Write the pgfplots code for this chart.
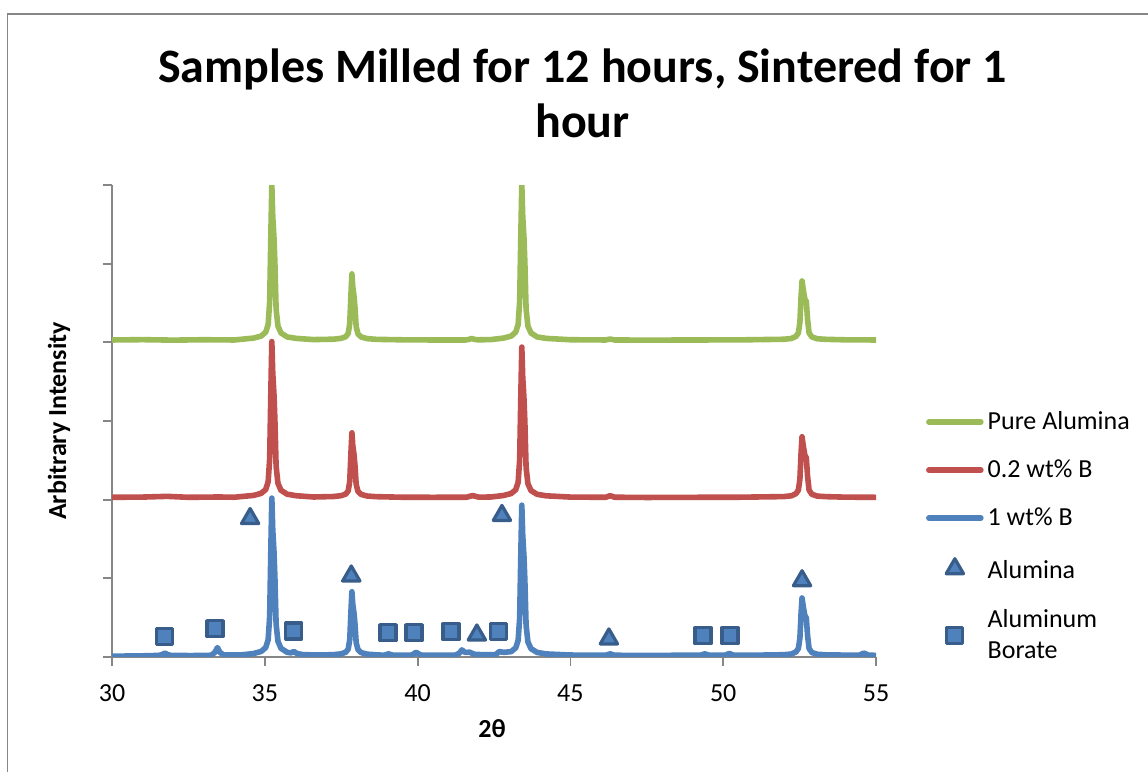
\documentclass[border=0pt]{standalone}
\usepackage{fontspec}
\setmainfont{Carlito}
\usepackage{pgfplots}
\pgfplotsset{compat=1.18}
\usepackage{pgfplotstable}

\definecolor{xlgreen}{HTML}{9BBB59}
\definecolor{xlred}{HTML}{C0504D}
\definecolor{xlblue}{HTML}{4F81BD}
\definecolor{xldark}{HTML}{385D8A}
\definecolor{xlgray}{HTML}{868686}

\pgfplotsset{
  linelegend/.style={legend image code/.code={\draw[##1] (0pt,0pt) -- (26pt,0pt);}},
  marklegend/.style={legend image code/.code={\draw[mark repeat=2,mark phase=2,##1] plot coordinates {(0pt,0pt) (13pt,0pt) (26pt,0pt)};}},
}

% pure alumina (offset +4)
\pgfplotstableread{
x y
30.00 4.030
31.00 4.034
32.00 4.028
33.00 4.033
34.00 4.030
34.63 4.054
34.88 4.079
35.03 4.129
35.11 4.227
35.16 4.523
35.20 5.409
35.23 6.000
35.26 5.606
35.30 5.330
35.33 5.015
35.37 4.424
35.43 4.207
35.53 4.119
35.73 4.069
36.03 4.050
36.60 4.035
37.25 4.040
37.50 4.051
37.65 4.072
37.73 4.114
37.78 4.240
37.82 4.618
37.85 4.870
37.88 4.702
37.92 4.584
37.95 4.450
37.99 4.198
38.05 4.106
38.15 4.068
38.35 4.047
38.65 4.038
39.50 4.032
40.50 4.030
41.57 4.030
41.69 4.038
41.77 4.050
41.85 4.038
41.97 4.032
42.40 4.035
42.81 4.054
43.06 4.079
43.21 4.129
43.29 4.227
43.34 4.523
43.38 5.409
43.41 6.000
43.44 5.606
43.48 5.330
43.51 5.015
43.55 4.424
43.61 4.207
43.71 4.119
43.91 4.069
44.21 4.050
45.00 4.033
46.15 4.030
46.30 4.042
46.45 4.030
47.50 4.028
49.00 4.030
50.50 4.031
51.98 4.039
52.23 4.049
52.38 4.075
52.46 4.120
52.51 4.255
52.55 4.593
52.58 4.780
52.62 4.668
52.67 4.555
52.72 4.518
52.76 4.293
52.81 4.120
52.90 4.068
53.08 4.045
53.38 4.038
54.00 4.032
55.00 4.030
}\pure

% 0.2 wt% B (offset +2)
\pgfplotstableread{
x y
30.00 2.030
31.00 2.033
31.80 2.042
32.50 2.030
33.50 2.034
34.00 2.031
34.63 2.054
34.88 2.080
35.03 2.129
35.11 2.228
35.16 2.525
35.20 3.416
35.23 4.010
35.26 3.614
35.30 3.337
35.33 3.020
35.37 2.426
35.43 2.208
35.53 2.119
35.73 2.070
36.03 2.050
36.60 2.034
37.25 2.040
37.50 2.051
37.65 2.071
37.73 2.112
37.78 2.235
37.82 2.604
37.85 2.850
37.88 2.686
37.92 2.571
37.95 2.440
37.99 2.194
38.05 2.104
38.15 2.067
38.35 2.046
38.65 2.038
39.50 2.031
40.50 2.030
41.60 2.031
41.80 2.052
42.00 2.032
42.40 2.034
42.81 2.053
43.06 2.078
43.21 2.126
43.29 2.221
43.34 2.508
43.38 3.367
43.41 3.940
43.44 3.558
43.48 3.291
43.51 2.985
43.55 2.412
43.61 2.202
43.71 2.116
43.91 2.068
44.21 2.049
45.00 2.033
46.15 2.030
46.30 2.050
46.45 2.031
47.50 2.028
49.00 2.030
50.50 2.031
51.98 2.039
52.23 2.049
52.38 2.076
52.46 2.122
52.51 2.261
52.55 2.608
52.58 2.800
52.62 2.685
52.67 2.569
52.72 2.531
52.76 2.300
52.81 2.122
52.90 2.069
53.08 2.045
53.38 2.038
54.00 2.032
55.00 2.030
}\lowB

% 1 wt% B
\pgfplotstableread{
x y
30.00 0.010
31.00 0.015
31.53 0.020
31.65 0.032
31.73 0.050
31.81 0.032
31.93 0.020
32.60 0.018
33.25 0.022
33.37 0.060
33.45 0.120
33.53 0.060
33.65 0.025
34.20 0.025
34.63 0.044
34.88 0.070
35.03 0.120
35.11 0.220
35.16 0.520
35.20 1.420
35.23 2.020
35.26 1.620
35.30 1.340
35.33 1.020
35.37 0.420
35.43 0.200
35.53 0.110
35.73 0.060
35.85 0.052
35.95 0.070
36.05 0.045
36.25 0.030
36.80 0.025
37.25 0.030
37.50 0.040
37.65 0.061
37.73 0.101
37.78 0.223
37.82 0.587
37.85 0.830
37.88 0.668
37.92 0.555
37.95 0.425
37.99 0.182
38.05 0.093
38.15 0.056
38.35 0.036
38.65 0.028
38.90 0.022
39.05 0.040
39.20 0.022
39.80 0.022
39.95 0.060
40.10 0.025
40.70 0.022
41.25 0.025
41.37 0.050
41.45 0.090
41.55 0.060
41.62 0.058
41.70 0.062
41.85 0.035
42.20 0.028
42.55 0.030
42.68 0.070
42.76 0.062
42.85 0.060
43.06 0.068
43.21 0.116
43.29 0.211
43.34 0.498
43.38 1.357
43.41 1.930
43.44 1.548
43.48 1.281
43.51 0.975
43.55 0.402
43.61 0.192
43.71 0.106
43.91 0.058
44.21 0.039
45.00 0.025
46.15 0.022
46.30 0.040
46.45 0.022
47.50 0.020
48.50 0.022
49.25 0.022
49.40 0.040
49.55 0.022
50.05 0.022
50.20 0.045
50.35 0.022
51.20 0.024
51.98 0.029
52.23 0.038
52.38 0.064
52.46 0.108
52.51 0.239
52.55 0.568
52.58 0.750
52.62 0.641
52.67 0.531
52.72 0.495
52.76 0.276
52.81 0.108
52.90 0.057
53.08 0.035
53.38 0.027
54.00 0.024
54.45 0.022
54.60 0.050
54.75 0.025
55.00 0.020
}\highB

\pgfplotstableread{
x y
34.52 1.76
37.83 1.03
41.94 0.28
42.76 1.80
46.26 0.23
52.58 0.97
}\alumina

\pgfplotstableread{
x y
31.73 0.26
33.37 0.36
35.95 0.33
39.03 0.31
39.88 0.31
41.09 0.32
42.66 0.32
49.34 0.27
50.22 0.27
}\borate

\begin{document}
\begin{tikzpicture}
\useasboundingbox (-56pt,-57.5pt) rectangle (518pt,328.5pt);
\draw[xlgray, line width=0.8pt] (-52.3pt,-60pt) -- (-52.3pt,321.5pt) -- (520pt,321.5pt);

\begin{axis}[
  at={(0pt,0pt)}, anchor=south west,
  scale only axis, width=382pt, height=236pt,
  xmin=30, xmax=55, ymin=0, ymax=6,
  xtick={30,35,...,55}, ytick={0,1,...,6}, yticklabels={},
  axis x line*=bottom, axis y line*=left,
  axis line style={xlgray, line width=0.9pt},
  tick style={xlgray, line width=0.9pt},
  tick align=outside, major tick length=4.5pt,
  tick label style={font=\fontsize{13}{15}\selectfont},
  xticklabel style={yshift=-6pt},
  /pgf/number format/assume math mode=true,
  legend style={at={(1.065,0.5295)}, anchor=north west, draw=none, fill=none,
    font=\fontsize{13}{15.6}\selectfont, row sep=9.6pt, inner sep=0pt,
    cells={align=left}},
  legend cell align=left,
]
\addplot[xlgreen, line width=2.8pt, line join=round, line cap=round, linelegend] table {\pure};
\addlegendentry{Pure Alumina}
\addplot[xlred, line width=2.8pt, line join=round, line cap=round, linelegend] table {\lowB};
\addlegendentry{0.2 wt\% B}
\addplot[xlblue, line width=2.8pt, line join=round, line cap=round, linelegend] table {\highB};
\addlegendentry{1 wt\% B}
\addplot[only marks, mark=triangle*, mark size=5pt,
  mark options={draw=xldark, fill=xlblue, line width=1.6pt, line join=round},
  marklegend] table {\alumina};
\addlegendentry{\rule{0pt}{11.6pt}Alumina}
\addplot[only marks, mark=square*, mark size=4pt,
  mark options={draw=xldark, fill=xlblue, line width=1.6pt, line join=round},
  marklegend] table {\borate};
\addlegendentry{Aluminum\\Borate}
\end{axis}

\node[anchor=base, font=\bfseries\fontsize{24}{28}\selectfont] at (235.25pt,287.3pt) {Samples Milled for 12 hours, Sintered for 1};
\node[anchor=base, font=\bfseries\fontsize{24}{28}\selectfont] at (235.25pt,259.5pt) {hour};
\node[rotate=90, font=\bfseries\fontsize{13}{15}\selectfont] at (-26.5pt,118pt) {Arbitrary Intensity};
\node[anchor=base, font=\bfseries\fontsize{13}{15}\selectfont] at (190pt,-40.5pt) {2θ};
\end{tikzpicture}
\end{document}
